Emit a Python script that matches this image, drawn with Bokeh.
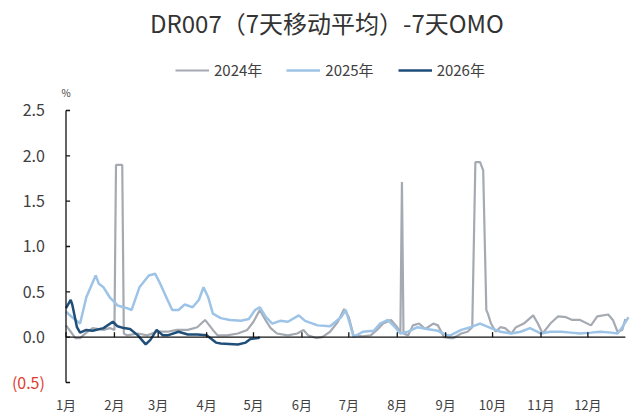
from bokeh.plotting import figure
from bokeh.models import Range1d, Label, ColumnDataSource
from bokeh.core.properties import value
from bokeh.embed import file_html
from bokeh.resources import INLINE

# ---------------- data ----------------
month_starts = [0, 31, 59, 90, 120, 151, 181, 212, 243, 273, 304, 334]
month_labels = ["1月", "2月", "3月", "4月", "5月", "6月", "7月", "8月", "9月", "10月", "11月", "12月"]

y_ticks = [-0.5, 0.0, 0.5, 1.0, 1.5, 2.0, 2.5]
y_labels = ["(0.5)", "0.0", "0.5", "1.0", "1.5", "2.0", "2.5"]
y_label_colors = ["#E03C31", "#404040", "#404040", "#404040", "#404040", "#404040", "#404040"]

day_2024 = [0, 3, 6, 9, 13, 17, 24, 28, 31, 32, 36, 37, 39, 46, 52, 58, 65, 71, 78, 84,
            89, 94, 97, 103, 110, 116, 120, 124, 128, 131, 135, 142, 148, 152, 155, 160, 164, 169, 174, 178,
            181, 184, 190, 195, 199, 203, 208, 212, 214, 215, 216, 219, 222, 226, 230, 235, 238, 242, 246, 248,
            253, 257, 260, 262, 265, 267, 269, 270, 272, 275, 278, 281, 285, 288, 293, 299, 302, 305, 310, 315,
            320, 324, 329, 336, 340, 347, 350, 353, 356, 358]
val_2024 = [0.13, 0.06, -0.01, -0.01, 0.05, 0.10, 0.08, 0.10, 0.08, 1.90, 1.90, 0.04, 0.02, 0.04, 0.02, 0.06, 0.06, 0.08, 0.08, 0.11,
            0.19, 0.08, 0.02, 0.02, 0.04, 0.08, 0.17, 0.30, 0.18, 0.10, 0.04, 0.02, 0.04, 0.08, 0.02, -0.01, 0.00, 0.06, 0.17, 0.31,
            0.22, 0.02, 0.01, 0.02, 0.08, 0.15, 0.19, 0.11, 0.04, 1.71, 0.04, 0.02, 0.13, 0.15, 0.09, 0.15, 0.13, 0.00, -0.01, -0.01,
            0.04, 0.06, 0.11, 1.93, 1.93, 1.84, 0.30, 0.26, 0.15, 0.06, 0.11, 0.10, 0.04, 0.11, 0.15, 0.24, 0.15, 0.04, 0.15, 0.23,
            0.22, 0.19, 0.19, 0.13, 0.23, 0.25, 0.19, 0.06, 0.08, 0.20]

day_2025 = [0, 4, 9, 13, 19, 21, 24, 28, 33, 39, 42, 47, 53, 57, 60, 65, 68, 72, 76, 81,
            85, 88, 91, 94, 99, 105, 112, 117, 121, 124, 128, 132, 137, 142, 149, 153, 161, 169, 176, 179,
            182, 184, 190, 197, 201, 206, 210, 214, 219, 225, 231, 238, 244, 246, 253, 259, 265, 272, 278, 285,
            291, 297, 304, 310, 317, 323, 329, 336, 342, 349, 353, 356, 360]
val_2025 = [0.28, 0.22, 0.15, 0.44, 0.68, 0.59, 0.55, 0.44, 0.35, 0.32, 0.30, 0.55, 0.68, 0.70, 0.60, 0.41, 0.30, 0.30, 0.36, 0.33,
            0.41, 0.55, 0.44, 0.26, 0.21, 0.19, 0.18, 0.20, 0.30, 0.33, 0.22, 0.15, 0.18, 0.17, 0.24, 0.18, 0.13, 0.12, 0.22, 0.30,
            0.13, 0.00, 0.06, 0.07, 0.15, 0.19, 0.12, 0.04, 0.06, 0.11, 0.09, 0.07, 0.02, 0.02, 0.08, 0.11, 0.15, 0.10, 0.06, 0.04,
            0.06, 0.10, 0.04, 0.06, 0.06, 0.05, 0.04, 0.05, 0.06, 0.05, 0.04, 0.11, 0.22]

day_2026 = [0, 3, 4, 7, 9, 13, 17, 24, 30, 33, 37, 41, 46, 51, 54, 58, 62, 65, 72, 78,
            84, 90, 96, 99, 110, 115, 118, 123, 124]
val_2026 = [0.32, 0.41, 0.36, 0.11, 0.05, 0.08, 0.07, 0.10, 0.17, 0.12, 0.10, 0.09, 0.02, -0.08, -0.03, 0.08, 0.02, 0.02, 0.06, 0.03,
            0.03, 0.02, -0.06, -0.07, -0.08, -0.06, -0.02, -0.01, 0.00]

title_text = "DR007（7天移动平均）-7天OMO"
unit_text = "%"

FONT = "Noto Sans CJK SC"
TXT = "#404040"

# scale: 1.5625 px per day, 90.67 px per percentage point (axis at a pixel centre)
X0 = -65.5 / 1.5625
X1 = X0 + 630 / 1.5625
Y0, Y1 = -0.875, 3.713
X_END = 358
TICK_X = 2.6     # y-axis tick length (days)
TICK_Y = 0.055   # month tick length (pct)
XLAB_Y = -0.745  # row for month labels
YLAB_X = -13.5   # right edge of y labels
AXIS_W = 1.3

p = figure(width=630, height=416, output_backend="svg", toolbar_location=None,
           x_range=Range1d(X0, X1), y_range=Range1d(Y0, Y1),
           min_border=0)
p.outline_line_color = None
p.xgrid.visible = False
p.ygrid.visible = False
p.axis.visible = False

# series lines
p.line(day_2024, val_2024, line_color="#A5AAB2", line_width=2.2, legend_label="2024年")
p.line(day_2025, val_2025, line_color="#9DC3E6", line_width=2.5, legend_label="2025年")
p.line(day_2026, val_2026, line_color="#1F4E79", line_width=2.5, legend_label="2026年")

# y axis: line, inward ticks, labels
p.segment(x0=[0], y0=[min(y_ticks)], x1=[0], y1=[max(y_ticks)], line_color="#111111", line_width=AXIS_W)
p.segment(x0=[0] * len(y_ticks), y0=y_ticks, x1=[TICK_X] * len(y_ticks), y1=y_ticks,
          line_color="#111111", line_width=AXIS_W)
ysrc = ColumnDataSource(dict(x=[YLAB_X] * len(y_ticks), y=y_ticks, t=y_labels, c=y_label_colors))
p.text(x="x", y="y", text="t", text_color="c", source=ysrc, text_align="right", text_baseline="middle",
       text_font=value(FONT), text_font_size="16px")

# zero line with month ticks, month labels
p.segment(x0=[0], y0=[0], x1=[X_END], y1=[0], line_color="#111111", line_width=AXIS_W)
p.segment(x0=month_starts, y0=[0] * len(month_starts), x1=month_starts, y1=[TICK_Y] * len(month_starts),
          line_color="#111111", line_width=AXIS_W)
p.text(x=month_starts, y=[XLAB_Y] * len(month_starts), text=month_labels, text_align="center",
       text_baseline="middle", text_font=value(FONT), text_font_size="13px", text_color=TXT)

# unit
p.add_layout(Label(x=0, y=2.70, text=unit_text, text_align="center", text_baseline="middle",
                   text_font=FONT, text_font_size="10px", text_color=TXT))
# title
p.add_layout(Label(x=167, y=3.47, text=title_text, text_align="center", text_baseline="middle",
                   text_font=FONT, text_font_size="24px", text_color="#333333"))

# legend
lg = p.legend[0]
lg.orientation = "horizontal"
lg.location = (175, 336)
lg.border_line_color = None
lg.background_fill_alpha = 0
lg.padding = 0
lg.margin = 0
lg.spacing = 24
lg.glyph_width = 34
lg.glyph_height = 16
lg.label_height = 16
lg.label_standoff = 5
lg.label_text_font = FONT
lg.label_text_font_size = "15px"
lg.label_text_color = TXT

open("out.html", "w").write(file_html(p, INLINE))
